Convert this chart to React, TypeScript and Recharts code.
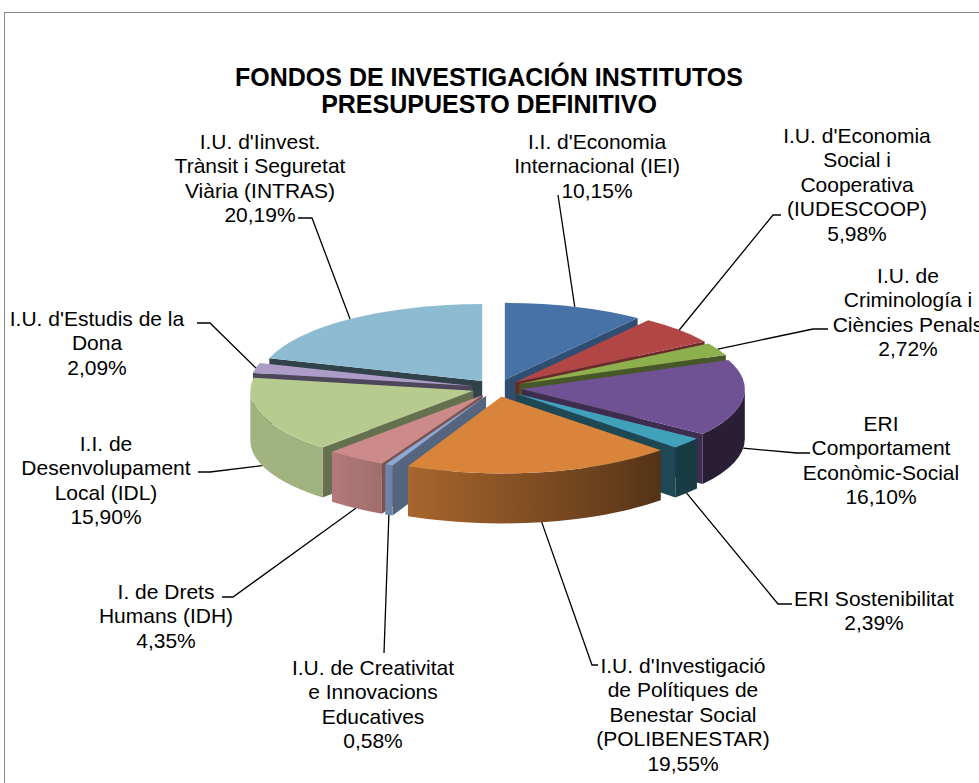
import React from 'react';
import { PieChart, Pie } from 'recharts';

// chart data, clockwise from 12 o'clock
const categories = [
  "I.I. d'Economia\nInternacional (IEI)",
  "I.U. d'Economia\nSocial i\nCooperativa\n(IUDESCOOP)",
  'I.U. de\nCriminología i\nCiències Penals',
  'ERI\nComportament\nEconòmic-Social',
  'ERI Sostenibilitat',
  "I.U. d'Investigació\nde Polítiques de\nBenestar Social\n(POLIBENESTAR)",
  'I.U. de Creativitat\ne Innovacions\nEducatives',
  'I. de Drets\nHumans (IDH)',
  'I.I. de\nDesenvolupament\nLocal (IDL)',
  "I.U. d'Estudis de la\nDona",
  "I.U. d'Iinvest.\nTrànsit i Seguretat\nViària (INTRAS)",
];
const shares = [10.15, 5.98, 2.72, 16.1, 2.39, 19.55, 0.58, 4.35, 15.9, 2.09, 20.19];

const titleLines = ['FONDOS DE INVESTIGACIÓN INSTITUTOS', 'PRESUPUESTO DEFINITIVO'];

// styling
const topColors = [
  '#4672a8', '#b24645', '#8cb04e', '#6f5293', '#41a0ba', '#d9843b',
  '#8da8d4', '#cc8b8a', '#b7cb8f', '#ae9cc8', '#8dbcd2',
];
const faceShade = [0.68, 0.6, 0.5, 0.55, 0.45, 0.5, 0.6, 0.6, 0.55, 0.45, 0.35];

// label placement (text centre, first line centre, leader elbow and tick)
const labelLayout: { x: number; y: number; elbow: number[]; tick?: number[] }[] = [
  { x: 597, y: 141, elbow: [558, 195] },
  { x: 857, y: 135, elbow: [773, 215], tick: [781, 215] },
  { x: 908, y: 275, elbow: [813, 329], tick: [828, 329] },
  { x: 881, y: 423, elbow: [797, 453], tick: [810, 453] },
  { x: 874, y: 598, elbow: [778, 604], tick: [792, 604] },
  { x: 683, y: 665, elbow: [592, 665], tick: [598, 665] },
  { x: 373, y: 667, elbow: [384, 653] },
  { x: 166, y: 591, elbow: [233, 597], tick: [222, 597] },
  { x: 106, y: 443, elbow: [210, 472], tick: [198, 472] },
  { x: 97, y: 318, elbow: [210, 323], tick: [197, 323] },
  { x: 260, y: 141, elbow: [312, 218], tick: [298, 218] },
];

const W = 979;
const H = 783;
const CX = 492;
const CY = 383;
const R = 223;
const TILT = 0.345;
const DEPTH = 50;
const EXPLODE = 25;
const FONT = '"Liberation Sans", Arial, sans-serif';
const LINE_H = 24.5;

const data = categories.map((name, i) => ({ name, value: shares[i] }));

const rad = (d: number) => (d * Math.PI) / 180;

const shade = (hex: string, f: number) => {
  const n = parseInt(hex.slice(1), 16);
  const c = [(n >> 16) & 255, (n >> 8) & 255, n & 255].map((v) =>
    Math.max(0, Math.min(255, Math.round(v * f)))
  );
  return `rgb(${c[0]},${c[1]},${c[2]})`;
};

// brightness of the outer wall depending on where it faces
const wallLight = (t: number) => Math.max(0.36, Math.min(0.88, 0.38 + (t - 134) * 0.0056));

// recharts gives ccw math angles; turn them into clockwise-from-top on a tilted ellipse
const geom = (p: any) => {
  const t0 = 90 - p.startAngle;
  const t1 = 90 - p.endAngle;
  const tm = (t0 + t1) / 2;
  const rx = p.outerRadius;
  const ry = rx * TILT;
  const ox = p.cx + EXPLODE * Math.sin(rad(tm));
  const oy = p.cy - EXPLODE * TILT * Math.cos(rad(tm));
  const pt = (t: number, dz = 0) => [ox + rx * Math.sin(rad(t)), oy - ry * Math.cos(rad(t)) + dz];
  return { t0, t1, tm, rx, ry, ox, oy, pt };
};

// draw order for the side walls: far slices first
const mids = shares.map((_, i) => {
  const before = shares.slice(0, i).reduce((a, b) => a + b, 0);
  return ((before + shares[i] / 2) / 100) * 360;
});
const wallOrder = mids.map((m, i) => ({ i, d: -Math.cos(rad(m)) })).sort((a, b) => a.d - b.d).map((o) => o.i);

const Walls = ({ p }: { p: any }) => {
  const i = p.index;
  const g = geom(p);
  const { t0, t1, rx, ry, ox, oy, pt } = g;
  const base = topColors[i];
  const parts: React.ReactNode[] = [];

  const face = (t: number, key: string) => {
    const [x, y] = pt(t);
    parts.push(
      <polygon
        key={key}
        points={`${ox},${oy} ${x},${y} ${x},${y + DEPTH} ${ox},${oy + DEPTH}`}
        fill={shade(base, faceShade[i])}
      />
    );
  };
  if (Math.sin(rad(t0)) < -1e-6) face(t0, 'start');
  if (Math.sin(rad(t1)) > 1e-6) face(t1, 'end');

  const a = Math.max(t0, 90);
  const b = Math.min(t1, 270);
  if (a < b) {
    const [ax, ay] = pt(a);
    const [bx, by] = pt(b);
    const id = `wall-grad-${i}`;
    const steps = 6;
    const stops = Array.from({ length: steps + 1 }, (_, k) => {
      const t = b - ((b - a) * k) / steps;
      const x = pt(t)[0];
      const off = bx === ax ? 0 : (x - bx) / (ax - bx);
      return <stop key={k} offset={off} stopColor={shade(base, wallLight(t))} />;
    });
    parts.push(
      <defs key="defs">
        <linearGradient id={id} gradientUnits="userSpaceOnUse" x1={bx} y1={0} x2={ax} y2={0}>
          {stops}
        </linearGradient>
      </defs>
    );
    parts.push(
      <path
        key="rim"
        d={`M${ax},${ay} A${rx},${ry} 0 0 1 ${bx},${by} L${bx},${by + DEPTH} A${rx},${ry} 0 0 0 ${ax},${ay + DEPTH} Z`}
        fill={`url(#${id})`}
      />
    );
  }
  return <g>{parts}</g>;
};

const Top = ({ p }: { p: any }) => {
  const { t0, t1, rx, ry, ox, oy, pt } = geom(p);
  const [x0, y0] = pt(t0);
  const [x1, y1] = pt(t1);
  const large = t1 - t0 > 180 ? 1 : 0;
  return (
    <path
      d={`M${ox},${oy} L${x0},${y0} A${rx},${ry} 0 ${large} 1 ${x1},${y1} Z`}
      fill={topColors[p.index]}
    />
  );
};

const SliceLabel = ({ p }: { p: any }) => {
  const i = p.index;
  const { tm, pt } = geom(p);
  const front = tm > 90 && tm < 270;
  const [ex, ey] = pt(tm, front ? DEPTH : 0);
  const lay = labelLayout[i];
  const pts = [[ex, ey], lay.elbow];
  if (lay.tick) pts.push(lay.tick);
  const lines = [...categories[i].split('\n'), `${shares[i].toFixed(2).replace('.', ',')}%`];
  return (
    <g>
      <polyline
        points={pts.map((q) => q.join(',')).join(' ')}
        fill="none"
        stroke="#000"
        strokeWidth={1.3}
      />
      {lines.map((ln, k) => (
        <text
          key={k}
          x={lay.x}
          y={lay.y + k * LINE_H}
          textAnchor="middle"
          dominantBaseline="central"
          fontFamily={FONT}
          fontSize={21}
          fill="#000"
        >
          {ln}
        </text>
      ))}
    </g>
  );
};

const pieBase = {
  data,
  dataKey: 'value',
  nameKey: 'name',
  cx: CX,
  cy: CY,
  outerRadius: R,
  startAngle: 90,
  endAngle: -270,
  fill: 'none',
  stroke: 'none',
  labelLine: false,
  isAnimationActive: false,
};

const App = () => {
  return (
    <div style={{ position: 'absolute', left: 0, top: 0, width: W, height: H, overflow: 'hidden', background: '#fff' }}>
      <div
        style={{
          position: 'absolute',
          left: 4,
          top: 12,
          width: 1000,
          height: 800,
          border: '1.5px solid #888',
        }}
      />
      <div style={{ position: 'absolute', left: 0, top: 0 }}>
        <PieChart width={W} height={H}>
          {wallOrder.map((idx) => (
            <Pie
              key={`w${idx}`}
              {...pieBase}
              label={(p: any) => (p.index === idx ? <Walls p={p} /> : <g />)}
            />
          ))}
          <Pie {...pieBase} label={(p: any) => <Top p={p} />} />
          <Pie {...pieBase} label={(p: any) => <SliceLabel p={p} />} />
        </PieChart>
      </div>
      {titleLines.map((t, k) => (
        <div
          key={k}
          style={{
            position: 'absolute',
            left: 0,
            width: 978,
            top: 77 + k * 27 - 15,
            height: 30,
            lineHeight: '30px',
            textAlign: 'center',
            fontFamily: FONT,
            fontWeight: 'bold',
            fontSize: 25,
            color: '#000',
          }}
        >
          {t}
        </div>
      ))}
    </div>
  );
};

export default App;
